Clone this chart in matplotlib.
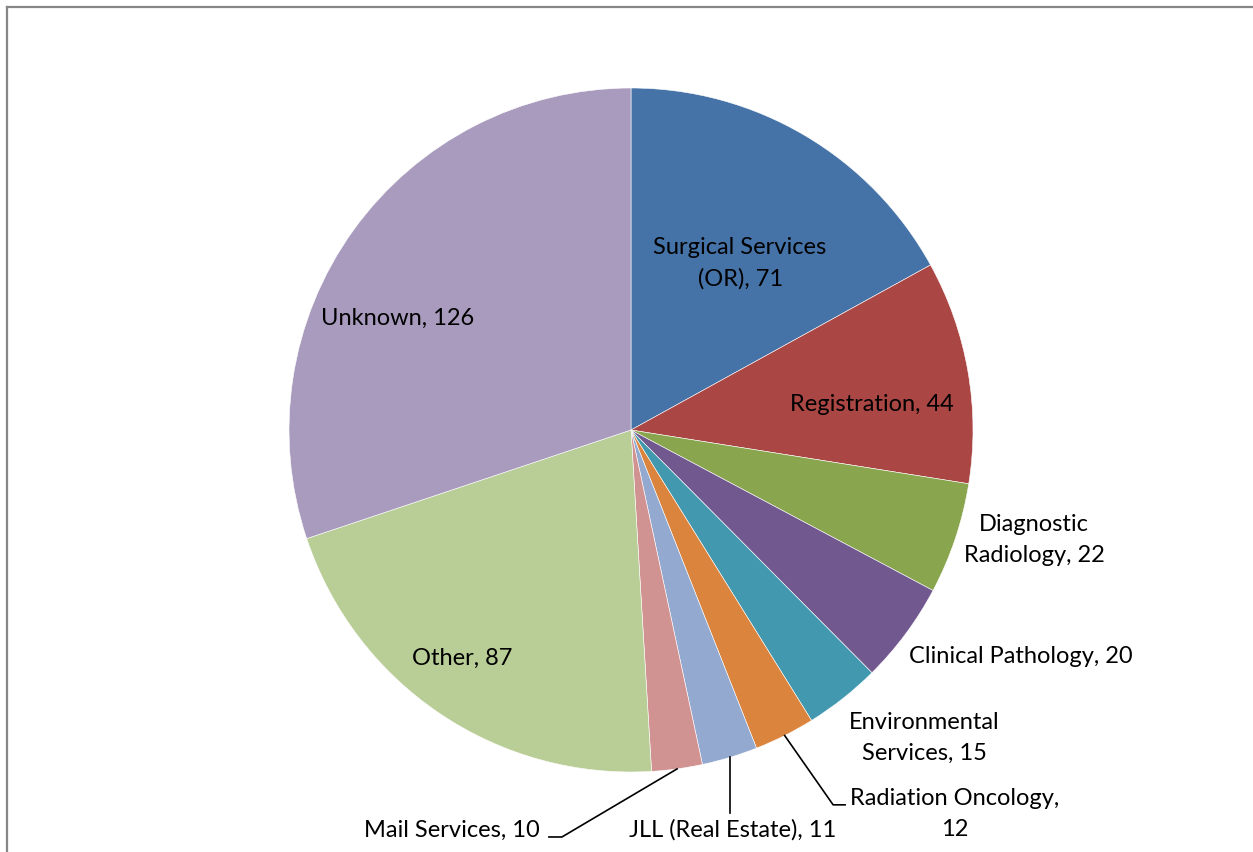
import numpy as np
import matplotlib.pyplot as plt
from matplotlib.lines import Line2D

departments = ['Surgical Services\n(OR)', 'Registration', 'Diagnostic\nRadiology',
               'Clinical Pathology', 'Environmental\nServices', 'Radiation Oncology,\n',
               'JLL (Real Estate)', 'Mail Services', 'Other', 'Unknown']
counts = [71, 44, 22, 20, 15, 12, 11, 10, 87, 126]
colors = ['#4572A7', '#AA4643', '#89A54E', '#71588F', '#4198AF',
          '#DB843D', '#93A9CF', '#D19392', '#B9CD96', '#A99BBD']

# label centres in pie-radius units (x, y)
label_pos = [(0.319, 0.488), (0.705, 0.076), (1.178, -0.322), (1.140, -0.661),
             (0.857, -0.901), (0.947, -1.123), (0.298, -1.170), (-0.523, -1.170),
             (-0.494, -0.667), (-0.681, 0.327)]

W, H = 1253, 852
cx, cy, R = 631, 430, 342

plt.rcParams['font.family'] = ['Lato', 'DejaVu Sans']
fig = plt.figure(figsize=(W / 100, H / 100), dpi=100)
ax = fig.add_axes([0, 0, 1, 1])

wedges, _ = ax.pie(counts, colors=colors, startangle=90, counterclock=False,
                   radius=1, wedgeprops=dict(edgecolor='white', linewidth=0.4))

ax.set_xlim(-cx / R, (W - cx) / R)
ax.set_ylim(-(H - cy) / R, cy / R)
ax.set_aspect('equal')
ax.axis('off')

for name, n, (x, y) in zip(departments, counts, label_pos):
    if name.endswith(',\n'):
        txt = name + str(n)
    else:
        txt = '{}, {}'.format(name, n)
    ax.text(x, y, txt, ha='center', va='center', fontsize=17, color='black',
            linespacing=1.55)


def edge_point(i):
    w = wedges[i]
    a = np.deg2rad((w.theta1 + w.theta2) / 2)
    return np.cos(a), np.sin(a)


# leader lines for the small slices at the bottom
p = edge_point(5)
ax.add_line(Line2D([p[0], 0.591, 0.626], [p[1], -1.096, -1.096], color='black', lw=1.2))
p = edge_point(6)
ax.add_line(Line2D([p[0], p[0]], [p[1], -1.120], color='black', lw=1.2))
p = edge_point(7)
ax.add_line(Line2D([p[0], -0.202, -0.240], [p[1], -1.190, -1.190], color='black', lw=1.2))

# chart area border (runs off the right and bottom)
fig.add_artist(Line2D([7 / W, 7 / W], [0, 1 - 7 / H], color='#878787', lw=1.6,
                      transform=fig.transFigure))
fig.add_artist(Line2D([7 / W, 1], [1 - 7 / H, 1 - 7 / H], color='#878787', lw=1.6,
                      transform=fig.transFigure))

fig.savefig('out.png', dpi=100)
